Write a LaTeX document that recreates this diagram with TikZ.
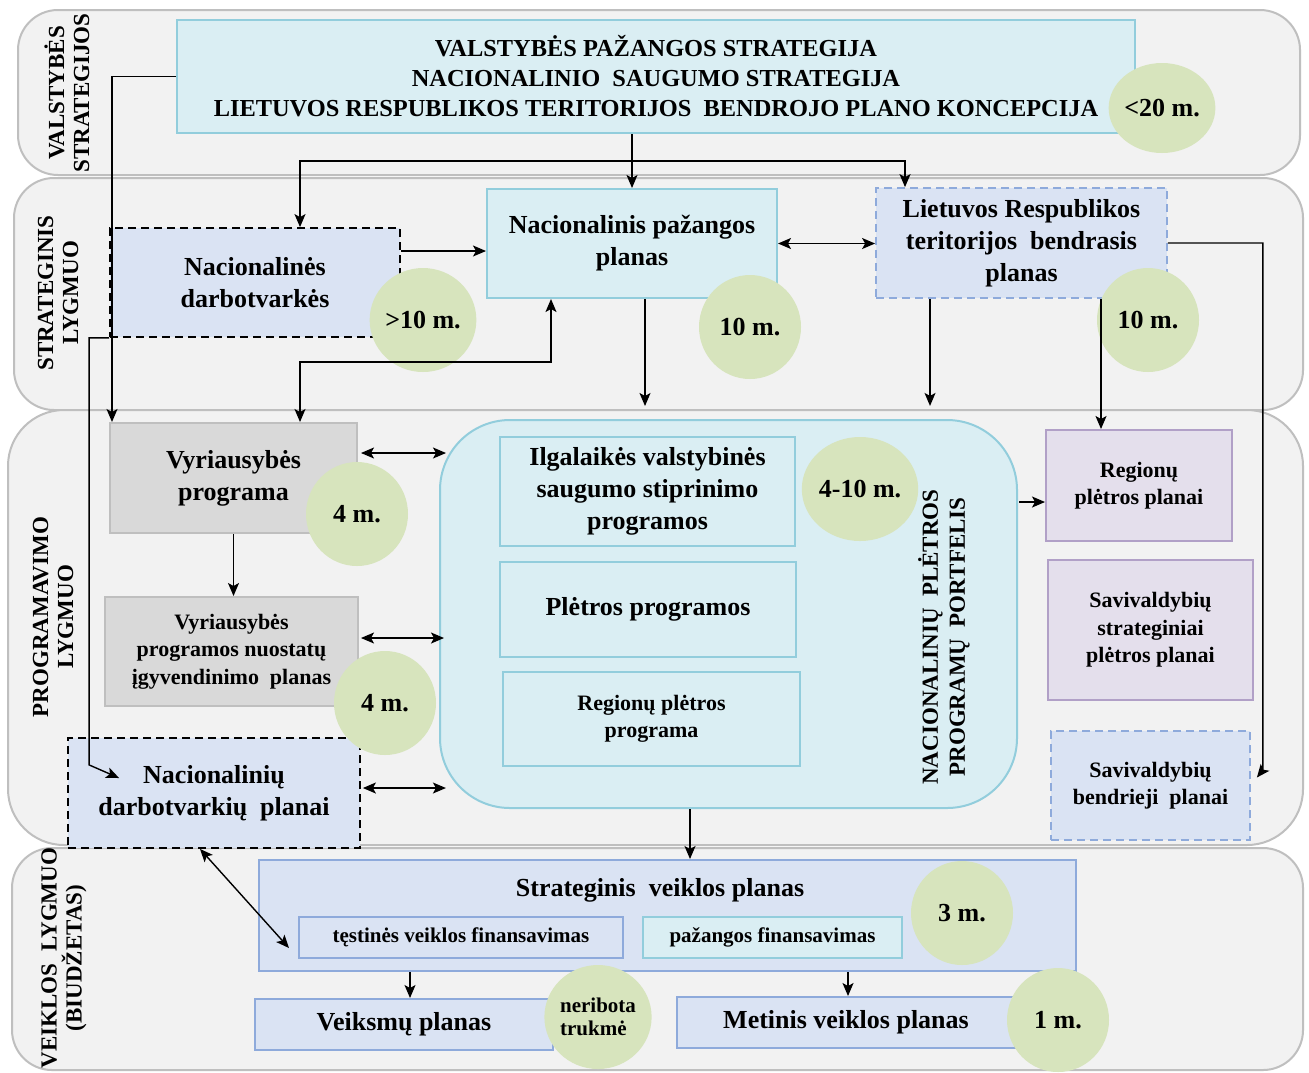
\documentclass[tikz,border=0pt]{standalone}
\usepackage{fontspec}
\setmainfont{Liberation Serif}
\usetikzlibrary{shapes.geometric,arrows.meta,calc}
\definecolor{bandfill}{HTML}{F2F2F2}
\definecolor{bandline}{HTML}{BFBFBF}
\definecolor{cyanfill}{HTML}{DAEEF3}
\definecolor{cyanline}{HTML}{92CDDC}
\definecolor{bluefill}{HTML}{DAE3F3}
\definecolor{blueline}{HTML}{8EAADB}
\definecolor{greyfill}{HTML}{D9D9D9}
\definecolor{greyline}{HTML}{BFBFBF}
\definecolor{purpfill}{HTML}{E4DFEC}
\definecolor{purpline}{HTML}{B1A0C7}
\definecolor{greenfill}{HTML}{D7E4BD}
\begin{document}
\begin{tikzpicture}[x=0.5pt,y=-0.5pt,
  sz/.style 2 args={minimum width=#1*0.5pt, minimum height=#2*0.5pt, inner sep=0pt},
  band/.style={draw=bandline, fill=bandfill, line width=1pt, rounded corners=20pt},
  cbox/.style={draw=cyanline, fill=cyanfill, line width=1pt, align=center},
  bbox/.style={draw=blueline, fill=bluefill, line width=1pt, align=center},
  dbox/.style={draw=black, fill=bluefill, line width=0.9pt, dash pattern=on 4pt off 2.5pt, align=center},
  ldbox/.style={draw=blueline, fill=bluefill, line width=0.9pt, dash pattern=on 4pt off 2.5pt, align=center},
  gbox/.style={draw=greyline, fill=greyfill, line width=1pt, align=center},
  pbox/.style={draw=purpline, fill=purpfill, line width=1pt, align=center},
  dur/.style={ellipse, fill=greenfill, inner sep=0pt, minimum width=102*0.5pt, minimum height=104*0.5pt, font=\bfseries\fontsize{13}{15}\selectfont},
  arr/.style={line width=0.7pt, -{Stealth[length=6.5pt,width=5.5pt,inset=1.5pt]}},
  darr/.style={line width=0.7pt, {Stealth[length=6.5pt,width=5.5pt,inset=1.5pt]}-{Stealth[length=6.5pt,width=5.5pt,inset=1.5pt]}},
  lbl/.style={rotate=90, align=center, font=\bfseries\fontsize{11.5}{12.5}\selectfont},
  bigtxt/.style={font=\bfseries\fontsize{13}{16}\selectfont},
  smalltxt/.style={font=\bfseries\fontsize{11}{13.75}\selectfont}
]
\useasboundingbox[fill=white] (0,0) rectangle (1309,1072);

% bands
\node[band, sz={1282}{165}] (b1) at (659,92.5) {};
\node[band, sz={1289}{232}] (b2) at (658.5,294) {};
\node[band, sz={1295}{435}, rounded corners=28pt] (b3) at (655.5,627.5) {};
\node[band, sz={1291}{222}] (b4) at (657.5,959) {};

\node[lbl] (l1) at (67,93) {VALSTYBĖS\\STRATEGIJOS};
\node[lbl] (l2) at (58,293) {STRATEGINIS\\LYGMUO};
\node[lbl] (l3) at (53,617) {PROGRAMAVIMO\\LYGMUO};
\node[lbl] (l4) at (64,958) {VEIKLOS~ LYGMUO\\(BIUDŽETAS)};

% state strategies
\node[cbox, sz={958}{113}, font=\bfseries\fontsize{12.2}{15}\selectfont] (top) at (656,76.5)
  {VALSTYBĖS PAŽANGOS STRATEGIJA\\NACIONALINIO~ SAUGUMO STRATEGIJA\\LIETUVOS RESPUBLIKOS TERITORIJOS~ BENDROJO PLANO KONCEPCIJA};

% strategic level
\node[dbox, sz={290}{109}, bigtxt] (nd) at (255,282.5) {Nacionalinės\\darbotvarkės};
\node[cbox, sz={290}{109}, bigtxt] (npp) at (632,243.5) {Nacionalinis pažangos\\planas};
\node[ldbox, sz={291}{110}, bigtxt] (lr) at (1021.5,243) {Lietuvos Respublikos\\teritorijos~ bendrasis\\planas};

% programming level
\node[gbox, sz={247}{110}, bigtxt] (vp) at (233.5,478) {Vyriausybės\\programa};
\node[gbox, sz={253}{109}, smalltxt] (vpn) at (231.5,651.5) {Vyriausybės\\programos nuostatų\\įgyvendinimo~ planas};
\node[dbox, sz={292}{110}, bigtxt] (ndp) at (214,793) {Nacionalinių\\darbotvarkių~ planai};
\node[cbox, sz={577}{388}, rounded corners=35pt] (big) at (728.5,614) {};
\node[cbox, sz={295}{109}, bigtxt] (ilg) at (647.5,491.5) {Ilgalaikės valstybinės\\saugumo stiprinimo\\programos};
\node[cbox, sz={296}{95}, bigtxt] (pp) at (648,609.5) {Plėtros programos};
\node[cbox, sz={297}{94}, smalltxt] (rpp) at (651.5,719) {Regionų plėtros\\programa};
\node[lbl, font=\bfseries\fontsize{11.5}{13.5}\selectfont] (port) at (944,637) {NACIONALINIŲ~ PLĖTROS\\PROGRAMŲ~ PORTFELIS};
\node[pbox, sz={186}{111}, smalltxt] (rpl) at (1139,485.5) {Regionų\\plėtros planai};
\node[pbox, sz={205}{140}, smalltxt] (ssp) at (1150.5,630) {Savivaldybių\\strateginiai\\plėtros planai};
\node[ldbox, sz={199}{109}, smalltxt] (sbp) at (1150.5,785.5) {Savivaldybių\\bendrieji~ planai};

% activity level
\node[bbox, sz={817}{111}] (svp) at (667.5,915.5) {};
\node[bigtxt] (svpt) at (660,890) {Strateginis~ veiklos planas};
\node[bbox, sz={324}{41}, font=\bfseries\fontsize{10.5}{12}\selectfont] (tvf) at (461,937.5) {tęstinės veiklos finansavimas};
\node[cbox, sz={259}{41}, font=\bfseries\fontsize{10.5}{12}\selectfont] (pf) at (772.5,937.5) {pažangos finansavimas};
\node[bbox, sz={298}{51}, bigtxt] (vkp) at (404,1024.5) {Veiksmų planas};
\node[bbox, sz={338}{51}, bigtxt] (mvp) at (846,1022.5) {Metinis veiklos planas};

% durations
\node[dur, minimum height=90*0.5pt] (e1) at (1162,108) {<20 m.};
\node[dur] (e2) at (423,320) {>10 m.};
\node[dur] (e3) at (750,327) {10 m.};
\node[dur] (e4) at (1148,320) {10 m.};
\node[dur] (e5) at (357,514) {4 m.};
\node[dur] (e6) at (385,703) {4 m.};
\node[dur] (e7) at (860,489) {4-10 m.};
\node[dur] (e8) at (962,913) {3 m.};
\node[dur, align=left, font=\bfseries\fontsize{10.5}{11.5}\selectfont] (e9) at (598,1017) {neribota\\trukmė};
\node[dur] (e10) at (1058,1020) {1 m.};

% connectors
\draw[arr] (top.west) -| ($(vp.north west)+(3,0)$);
\draw[arr] (npp.north |- top.south) -- (npp.north);
\coordinate (split) at ($(npp.north |- top.south)!0.5!(npp.north)$);
\draw[arr] (split) -| ($(nd.north)+(45,0)$);
\draw[arr] (split) -| ($(lr.north)+(-116.5,0)$);
\coordinate (a3) at ($(nd.east)+(0,-31.5)$);
\draw[arr] (a3) -- (a3 -| npp.west);
\draw[darr] (npp.east) -- (npp.east -| lr.west);
\coordinate (c5a) at ($(vp.north)+(66.5,0)$);
\coordinate (c5b) at ($(npp.south)+(-81,0)$);
\draw[darr] (c5b) -- ++(0,63) -| (c5a);
\draw[arr] (nd.south west) -- ++(-20,0) -- ++(0,427) -- ($(ndp.west)+(52,-15)$);
\draw[arr] ($(npp.south)+(13,0)$) -- ++(0,107);
\draw[arr] ($(lr.south)+(-91.5,0)$) -- ++(0,107);
\coordinate (c9) at ($(rpl.north)+(-38,0)$);
\draw[arr] (c9 |- lr.south) -- (c9);
\draw[arr] (lr.east) -- ++(95,0) -- ++(0,527) -- ($(sbp.east)+(6,-8)$);
\draw[arr] ($(rpl.west)+(-26,16.5)$) -- ($(rpl.west)+(0,16.5)$);
\draw[arr] (vp.south) -- (vp.south |- vpn.north);
\draw[darr] ($(vp.east)+(3,-25)$) -- ++(85,0);
\draw[darr] ($(vpn.east)+(2,-13.5)$) -- ++(83,0);
\draw[darr] ($(ndp.east)+(2,-5)$) -- ++(83,0);
\coordinate (c14) at ($(big.south)+(-38.5,0)$);
\draw[arr] (c14) -- (c14 |- svp.north);
\draw[darr] ($(ndp.south)+(-14,0)$) -- ($(tvf.west)+(-9,10.5)$);
\coordinate (c16) at ($(vkp.north)+(6,0)$);
\draw[arr] (c16 |- svp.south) -- (c16);
\coordinate (c17) at ($(mvp.north)+(2,0)$);
\draw[arr] (c17 |- svp.south) -- (c17);
\end{tikzpicture}
\end{document}
